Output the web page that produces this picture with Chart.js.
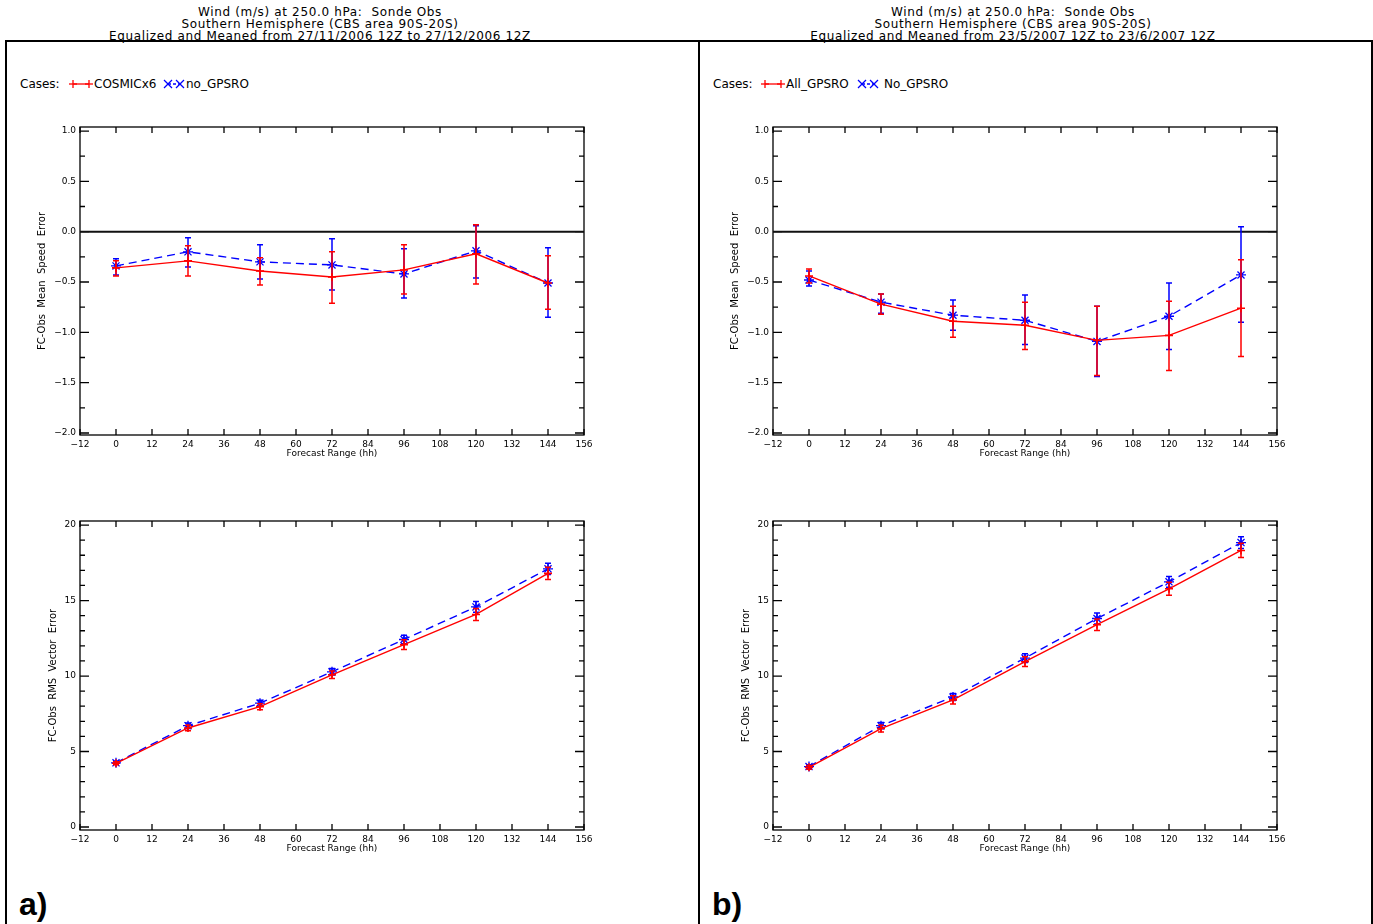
<!DOCTYPE html>
<html>
<head>
<meta charset="utf-8">
<script src="https://cdn.jsdelivr.net/npm/chart.js@4.4.0/dist/chart.umd.min.js"></script>
<style>
  body { margin: 0; width: 1373px; height: 924px; overflow: hidden; background: #fff; position: relative; font-family: "DejaVu Sans", sans-serif; color: #000; }
  .panel { position: absolute; top: 40px; height: 900px; border: 2px solid #000; box-sizing: border-box; }
  .title { position: absolute; top: 6px; width: 640px; text-align: center; font-size: 12px; letter-spacing: 0.65px; line-height: 12px; white-space: pre; }
  .cases { position: absolute; top: 77px; font-size: 12px; line-height: 14px; white-space: nowrap; }
  .mark { position: absolute; top: 78px; }
  .tag { position: absolute; top: 886px; font: bold 32px "Liberation Sans", Arial, sans-serif; line-height: 36px; }
  canvas { position: absolute; }
</style>
</head>
<body>
<div class="panel" style="left:5px; width:695px;"></div>
<div class="panel" style="left:698px; width:675px;"></div>

<div class="title" style="left:0px;">Wind (m/s) at 250.0 hPa:  Sonde Obs
Southern Hemisphere (CBS area 90S-20S)
Equalized and Meaned from 27/11/2006 12Z to 27/12/2006 12Z</div>
<div class="title" style="left:693px;">Wind (m/s) at 250.0 hPa:  Sonde Obs
Southern Hemisphere (CBS area 90S-20S)
Equalized and Meaned from 23/5/2007 12Z to 23/6/2007 12Z</div>

<div class="cases" style="left:20px;">Cases:</div>
<svg class="mark" style="left:68px;" width="26" height="12"><g stroke="#f00" stroke-width="1.3"><line x1="5" y1="6" x2="21" y2="6"/><line x1="1" y1="6" x2="9" y2="6"/><line x1="5" y1="2" x2="5" y2="10"/><line x1="17" y1="6" x2="25" y2="6"/><line x1="21" y1="2" x2="21" y2="10"/></g></svg>
<div class="cases" style="left:94px;">COSMICx6</div>
<svg class="mark" style="left:163px;" width="24" height="12"><g stroke="#00f" stroke-width="1.3"><line x1="5" y1="6" x2="17" y2="6" stroke-dasharray="3,2"/><line x1="1" y1="2" x2="9" y2="10"/><line x1="1" y1="10" x2="9" y2="2"/><line x1="13" y1="2" x2="21" y2="10"/><line x1="13" y1="10" x2="21" y2="2"/></g></svg>
<div class="cases" style="left:186px;">no_GPSRO</div>

<div class="cases" style="left:713px;">Cases:</div>
<svg class="mark" style="left:760px;" width="26" height="12"><g stroke="#f00" stroke-width="1.3"><line x1="5" y1="6" x2="21" y2="6"/><line x1="1" y1="6" x2="9" y2="6"/><line x1="5" y1="2" x2="5" y2="10"/><line x1="17" y1="6" x2="25" y2="6"/><line x1="21" y1="2" x2="21" y2="10"/></g></svg>
<div class="cases" style="left:786px;">All_GPSRO</div>
<svg class="mark" style="left:857px;" width="24" height="12"><g stroke="#00f" stroke-width="1.3"><line x1="5" y1="6" x2="17" y2="6" stroke-dasharray="3,2"/><line x1="1" y1="2" x2="9" y2="10"/><line x1="1" y1="10" x2="9" y2="2"/><line x1="13" y1="2" x2="21" y2="10"/><line x1="13" y1="10" x2="21" y2="2"/></g></svg>
<div class="cases" style="left:884px;">No_GPSRO</div>

<canvas id="meanA" width="590" height="350" style="left:20px; top:110px;"></canvas>
<canvas id="meanB" width="590" height="350" style="left:713px; top:110px;"></canvas>
<canvas id="rmsA" width="590" height="350" style="left:20px; top:505px;"></canvas>
<canvas id="rmsB" width="590" height="350" style="left:713px; top:505px;"></canvas>

<div class="tag" style="left:19px;">a)</div>
<div class="tag" style="left:712px;">b)</div>

<script>
// forecast range (hh)
const hours = [0, 24, 48, 72, 96, 120, 144];
const yTicksMean = [-2.0, -1.5, -1.0, -0.5, 0.0, 0.5, 1.0];
const yTicksRms = [0, 5, 10, 15, 20];

// a) mean speed error
const meanA_red   = [-0.36, -0.29, -0.39, -0.45, -0.38, -0.22, -0.51];
const meanA_redLo = [-0.44, -0.44, -0.53, -0.71, -0.62, -0.52, -0.77];
const meanA_redHi = [-0.29, -0.14, -0.26, -0.20, -0.13, 0.07, -0.24];
const meanA_blue   = [-0.34, -0.20, -0.30, -0.33, -0.42, -0.19, -0.51];
const meanA_blueLo = [-0.43, -0.35, -0.47, -0.58, -0.66, -0.46, -0.85];
const meanA_blueHi = [-0.27, -0.06, -0.13, -0.07, -0.17, 0.06, -0.16];

// b) mean speed error
const meanB_red   = [-0.44, -0.72, -0.89, -0.93, -1.08, -1.03, -0.76];
const meanB_redLo = [-0.51, -0.82, -1.05, -1.17, -1.43, -1.38, -1.24];
const meanB_redHi = [-0.37, -0.62, -0.74, -0.70, -0.74, -0.69, -0.28];
const meanB_blue   = [-0.48, -0.70, -0.83, -0.88, -1.09, -0.84, -0.43];
const meanB_blueLo = [-0.54, -0.81, -0.98, -1.12, -1.44, -1.17, -0.90];
const meanB_blueHi = [-0.39, -0.62, -0.68, -0.63, -0.74, -0.51, 0.05];

// a) rms vector error
const rmsA_red   = [4.22, 6.56, 7.97, 10.08, 12.08, 14.08, 16.80];
const rmsA_redLo = [4.12, 6.38, 7.77, 9.83, 11.75, 13.68, 16.40];
const rmsA_redHi = [4.32, 6.74, 8.17, 10.33, 12.41, 14.48, 17.20];
const rmsA_blue   = [4.25, 6.71, 8.20, 10.28, 12.42, 14.58, 17.10];
const rmsA_blueLo = [4.15, 6.53, 8.00, 10.06, 12.14, 14.23, 16.73];
const rmsA_blueHi = [4.35, 6.89, 8.40, 10.50, 12.70, 14.93, 17.47];

// b) rms vector error
const rmsB_red   = [3.95, 6.52, 8.42, 10.95, 13.40, 15.78, 18.32];
const rmsB_redLo = [3.83, 6.30, 8.15, 10.63, 13.02, 15.35, 17.85];
const rmsB_redHi = [4.07, 6.74, 8.69, 11.27, 13.78, 16.21, 18.79];
const rmsB_blue   = [4.00, 6.71, 8.61, 11.19, 13.81, 16.24, 18.84];
const rmsB_blueLo = [3.88, 6.50, 8.38, 10.90, 13.45, 15.88, 18.45];
const rmsB_blueHi = [4.12, 6.92, 8.84, 11.48, 14.17, 16.60, 19.23];

const FONT = '"DejaVu Sans", sans-serif';
const minus = s => String(s).replace('-', '\u2212');

// IDL-style box with inward ticks, plus the zero line
const idlFrame = {
  id: 'idlFrame',
  beforeDatasetsDraw(chart, args, o) {
    const { ctx, chartArea: a, scales: { x, y } } = chart;
    ctx.save();
    ctx.strokeStyle = '#000';
    ctx.lineWidth = 1.3;
    ctx.beginPath();
    for (let k = 0; k <= 14; k++) {
      const px = x.getPixelForValue(-12 + 12 * k);
      ctx.moveTo(px, a.bottom); ctx.lineTo(px, a.bottom - 6);
      ctx.moveTo(px, a.top); ctx.lineTo(px, a.top + 6);
    }
    const n = Math.round((o.yEnd - o.yStart) / o.yMinor);
    for (let k = 0; k <= n; k++) {
      const py = y.getPixelForValue(o.yStart + k * o.yMinor);
      const len = (k % o.perMajor === 0) ? 9 : 5;
      ctx.moveTo(a.left, py); ctx.lineTo(a.left + len, py);
      ctx.moveTo(a.right, py); ctx.lineTo(a.right - len, py);
    }
    ctx.stroke();
    ctx.strokeRect(a.left, a.top, a.width, a.height);
    if (o.zero) {
      const pz = y.getPixelForValue(0);
      ctx.lineWidth = 2;
      ctx.strokeStyle = '#111';
      ctx.beginPath();
      ctx.moveTo(a.left, pz); ctx.lineTo(a.right, pz);
      ctx.stroke();
    }
    ctx.restore();
  }
};

// vertical error bars with small caps, drawn right after each dataset
const errorBars = {
  id: 'errorBars',
  afterDatasetDraw(chart, args) {
    const ds = chart.data.datasets[args.index];
    if (!ds.errLo) return;
    const { ctx, scales: { x, y } } = chart;
    ctx.save();
    ctx.strokeStyle = ds.borderColor;
    ctx.lineWidth = 1.5;
    ds.data.forEach((p, i) => {
      const px = x.getPixelForValue(p.x);
      const lo = y.getPixelForValue(ds.errLo[i]);
      const hi = y.getPixelForValue(ds.errHi[i]);
      ctx.beginPath();
      ctx.moveTo(px, lo); ctx.lineTo(px, hi);
      ctx.moveTo(px - 3, lo); ctx.lineTo(px + 3, lo);
      ctx.moveTo(px - 3, hi); ctx.lineTo(px + 3, hi);
      ctx.stroke();
    });
    ctx.restore();
  }
};

function makeChart(id, s) {
  const pts = arr => hours.map((h, i) => ({ x: h, y: arr[i] }));
  return new Chart(document.getElementById(id), {
    type: 'line',
    data: {
      datasets: [
        {
          label: s.redLabel, data: pts(s.red), errLo: s.redLo, errHi: s.redHi,
          borderColor: '#ff0000', backgroundColor: '#ff0000', borderWidth: 1.4,
          pointStyle: 'cross', pointRadius: 4, pointBorderWidth: 1.6, tension: 0
        },
        {
          label: s.blueLabel, data: pts(s.blue), errLo: s.blueLo, errHi: s.blueHi,
          borderColor: '#0000ff', backgroundColor: '#0000ff', borderWidth: 1.4, borderDash: [8, 5],
          pointStyle: 'star', pointRadius: 5, pointBorderWidth: 1.3, tension: 0
        }
      ]
    },
    options: {
      responsive: false,
      animation: false,
      devicePixelRatio: 1,
      layout: { padding: { top: s.padTop, right: 26, left: 0, bottom: 0 } },
      plugins: {
        legend: { display: false },
        tooltip: { enabled: false },
        idlFrame: s.frame
      },
      scales: {
        x: {
          type: 'linear', min: -12, max: 156,
          afterFit: sc => { sc.height = 25; },
          grid: { display: false, drawTicks: false },
          border: { display: false },
          ticks: { stepSize: 12, autoSkip: false, maxRotation: 0, padding: 4, color: '#000', font: { family: FONT, size: 9 }, callback: v => minus(v) },
          title: { display: true, text: 'Forecast Range (hh)', color: '#000', font: { family: FONT, size: 9 }, padding: { top: 0, bottom: 1 } }
        },
        y: {
          type: 'linear', min: s.yMin, max: s.yMax,
          afterFit: sc => { sc.width = 60; },
          afterBuildTicks: sc => { sc.ticks = s.yTicks.map(v => ({ value: v })); },
          grid: { display: false, drawTicks: false },
          border: { display: false },
          ticks: { padding: 4, color: '#000', font: { family: FONT, size: 9 }, callback: s.fmt },
          title: { display: true, text: s.yTitle, color: '#000', font: { family: FONT, size: 10 }, padding: { top: s.yTitlePad, bottom: 0 } }
        }
      }
    },
    plugins: [idlFrame, errorBars]
  });
}

const meanFrame = { yStart: -2, yEnd: 1, yMinor: 0.25, perMajor: 2, zero: true };
const rmsFrame = { yStart: 0, yEnd: 20, yMinor: 1, perMajor: 5, zero: false };
const fmtMean = v => minus(Number(v).toFixed(1));
const fmtRms = v => String(v);

makeChart('meanA', {
  redLabel: 'COSMICx6', blueLabel: 'no_GPSRO',
  red: meanA_red, redLo: meanA_redLo, redHi: meanA_redHi,
  blue: meanA_blue, blueLo: meanA_blueLo, blueHi: meanA_blueHi,
  yMin: -2.02, yMax: 1.04, yTicks: yTicksMean, fmt: fmtMean, frame: meanFrame,
  yTitle: 'FC-Obs  Mean  Speed  Error', yTitlePad: 16, padTop: 17
});
makeChart('meanB', {
  redLabel: 'All_GPSRO', blueLabel: 'No_GPSRO',
  red: meanB_red, redLo: meanB_redLo, redHi: meanB_redHi,
  blue: meanB_blue, blueLo: meanB_blueLo, blueHi: meanB_blueHi,
  yMin: -2.02, yMax: 1.04, yTicks: yTicksMean, fmt: fmtMean, frame: meanFrame,
  yTitle: 'FC-Obs  Mean  Speed  Error', yTitlePad: 16, padTop: 17
});
makeChart('rmsA', {
  redLabel: 'COSMICx6', blueLabel: 'no_GPSRO',
  red: rmsA_red, redLo: rmsA_redLo, redHi: rmsA_redHi,
  blue: rmsA_blue, blueLo: rmsA_blueLo, blueHi: rmsA_blueHi,
  yMin: -0.2, yMax: 20.27, yTicks: yTicksRms, fmt: fmtRms, frame: rmsFrame,
  yTitle: 'FC-Obs  RMS  Vector  Error', yTitlePad: 27, padTop: 16
});
makeChart('rmsB', {
  redLabel: 'All_GPSRO', blueLabel: 'No_GPSRO',
  red: rmsB_red, redLo: rmsB_redLo, redHi: rmsB_redHi,
  blue: rmsB_blue, blueLo: rmsB_blueLo, blueHi: rmsB_blueHi,
  yMin: -0.2, yMax: 20.27, yTicks: yTicksRms, fmt: fmtRms, frame: rmsFrame,
  yTitle: 'FC-Obs  RMS  Vector  Error', yTitlePad: 27, padTop: 16
});
</script>
</body>
</html>
